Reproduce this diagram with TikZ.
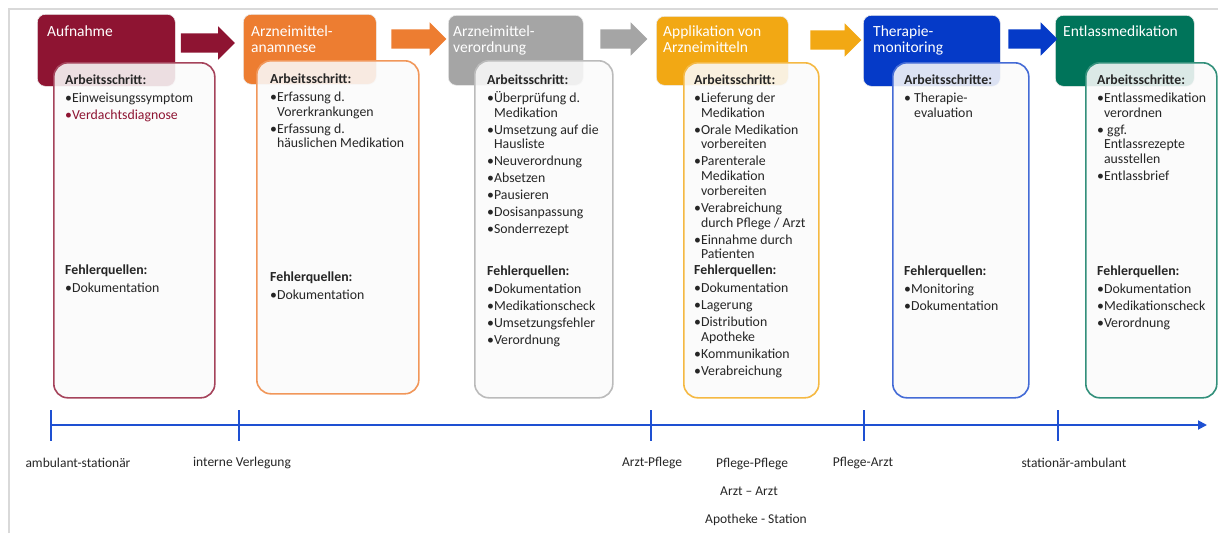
\documentclass[tikz,border=0pt]{standalone}
\usepackage{fontspec}
\setmainfont{Carlito}
\usetikzlibrary{shapes.arrows,arrows.meta}

\definecolor{aufRed}{RGB}{142,20,50}
\definecolor{anaOrange}{RGB}{237,125,49}
\definecolor{verGray}{RGB}{165,165,165}
\definecolor{appGold}{RGB}{242,168,20}
\definecolor{monBlue}{RGB}{5,58,200}
\definecolor{entTeal}{RGB}{0,116,90}
\definecolor{axisBlue}{RGB}{30,80,210}
\definecolor{bodyText}{RGB}{38,38,38}

\newcommand{\ind}{\phantom{\textbullet}}

\tikzset{
  head/.style={rounded corners=8pt, draw=black!8, line width=0.6pt, anchor=north west, inner sep=0pt},
  htitle/.style={text=white, font=\fontsize{15.5}{15.5}\selectfont, align=left, anchor=north west, inner sep=0pt},
  card/.style={draw, line width=1.6pt, rounded corners=14pt, fill=white!98!black, fill opacity=0.88, anchor=north west, inner sep=0pt},
  steps/.style={text=bodyText, font=\fontsize{13.8}{14.7}\selectfont, align=left, anchor=north west, inner sep=0pt},
  flow/.style={single arrow, inner xsep=0pt, inner ysep=9.5pt, single arrow head extend=7pt, single arrow tip angle=90, minimum height=#1},
  flow/.default=52pt,
  tick/.style={axisBlue, line width=1.8pt},
  lab/.style={text=bodyText, font=\fontsize{13.5}{14}\selectfont, inner sep=0pt}
}

\begin{document}
\begin{tikzpicture}[x=1pt, y=-1pt]
    \useasboundingbox (0,0) rectangle (1218,533);
    \draw[black!15, line width=2pt] (9,533) -- (9,9) -- (1218,9);
    % header boxes
        \node[head, fill=aufRed, minimum width=138pt, minimum height=72pt] (h1) at (37,14) {};
        \node[head, fill=anaOrange, minimum width=133pt, minimum height=70pt] (h2) at (243,14) {};
        \node[head, fill=verGray, minimum width=135pt, minimum height=70pt] (h3) at (448,15) {};
        \node[head, fill=appGold, minimum width=132pt, minimum height=69pt] (h4) at (656,16) {};
        \node[head, fill=monBlue, minimum width=137pt, minimum height=71pt] (h5) at (863,15) {};
        \node[head, fill=entTeal, minimum width=139pt, minimum height=71pt] (h6) at (1055,15) {};
    % titles
        \node[htitle] (t1) at ([shift={(10,12)}]h1.north west) {Aufnahme};
        \node[htitle] (t2) at ([shift={(8,12)}]h2.north west) {Arzneimittel-\\anamnese};
        \node[htitle] (t3) at ([shift={(5,11)}]h3.north west) {Arzneimittel-\\verordnung};
        \node[htitle] (t4) at ([shift={(7,10)}]h4.north west) {Applikation von\\Arzneimitteln};
        \node[htitle] (t5) at ([shift={(10,11)}]h5.north west) {Therapie-\\monitoring};
        \node[htitle] (t6) at ([shift={(8,11)}]h6.north west) {Entlassmedikation};
    % block arrows between the headers
        \node[flow=54pt, fill=aufRed] (a1) at (203,43) {};
        \node[flow=55pt, fill=anaOrange] (a2) at (414,39) {};
        \node[flow=47pt, fill=verGray] (a3) at (619,39) {};
        \node[flow=51pt, fill=appGold] (a4) at (831,40) {};
        \node[flow=49pt, fill=monBlue] (a5) at (1028,39) {};
    % cards
        \node[card, draw=aufRed!80, minimum width=161pt, minimum height=335pt] (b1) at (53,62) {};
        \node[card, draw=anaOrange!80, minimum width=162pt, minimum height=333pt] (b2) at (256,60) {};
        \node[card, draw=verGray!75, minimum width=138pt, minimum height=337pt] (b3) at (474,60) {};
        \node[card, draw=appGold!80, minimum width=135pt, minimum height=335pt] (b4) at (683,62) {};
        \node[card, draw=monBlue!75, minimum width=136pt, minimum height=335pt] (b5) at (892,62) {};
        \node[card, draw=entTeal!80, minimum width=131pt, minimum height=335pt] (b6) at (1085,62) {};
    % work steps
        \node[steps] (s1) at (65,75) {\textbf{Arbeitsschritt:}\\[3pt]
            \textbullet Einweisungssymptom\\[2.3pt]
            \textcolor{aufRed}{\textbullet Verdachtsdiagnose}};
        \node[steps] (s2) at (270,74) {\textbf{Arbeitsschritt:}\\[3pt]
            \textbullet Erfassung d.\\ \ind Vorerkrankungen\\[2.3pt]
            \textbullet Erfassung d.\\ \ind häuslichen Medikation};
        \node[steps] (s3) at (487,75) {\textbf{Arbeitsschritt:}\\[3pt]
            \textbullet Überprüfung d.\\ \ind Medikation\\[2.3pt]
            \textbullet Umsetzung auf die\\ \ind Hausliste\\[2.3pt]
            \textbullet Neuverordnung\\[2.3pt]
            \textbullet Absetzen\\[2.3pt]
            \textbullet Pausieren\\[2.3pt]
            \textbullet Dosisanpassung\\[2.3pt]
            \textbullet Sonderrezept};
        \node[steps] (s4) at (694,75) {\textbf{Arbeitsschritt:}\\[3pt]
            \textbullet Lieferung der\\ \ind Medikation\\[2.3pt]
            \textbullet Orale Medikation\\ \ind vorbereiten\\[2.3pt]
            \textbullet Parenterale\\ \ind Medikation\\ \ind vorbereiten\\[2.3pt]
            \textbullet Verabreichung\\ \ind durch Pflege / Arzt\\[2.3pt]
            \textbullet Einnahme durch\\ \ind Patienten};
        \node[steps] (s5) at (904,75) {\textbf{Arbeitsschritte:}\\[3pt]
            \textbullet\ Therapie-\\ \ind\ evaluation};
        \node[steps] (s6) at (1097,75) {\textbf{Arbeitsschritte:}\\[3pt]
            \textbullet Entlassmedikation\\ \ind verordnen\\[2.3pt]
            \textbullet\ ggf.\\ \ind Entlassrezepte\\ \ind ausstellen\\[2.3pt]
            \textbullet Entlassbrief};
    % error sources
        \node[steps] (f1) at (65,265) {\textbf{Fehlerquellen:}\\[3pt]
            \textbullet Dokumentation};
        \node[steps] (f2) at (270,272) {\textbf{Fehlerquellen:}\\[3pt]
            \textbullet Dokumentation};
        \node[steps] (f3) at (487,266) {\textbf{Fehlerquellen:}\\[3pt]
            \textbullet Dokumentation\\[2.3pt]
            \textbullet Medikationscheck\\[2.3pt]
            \textbullet Umsetzungsfehler\\[2.3pt]
            \textbullet Verordnung};
        \node[steps] (f4) at (694,265) {\textbf{Fehlerquellen:}\\[3pt]
            \textbullet Dokumentation\\[2.3pt]
            \textbullet Lagerung\\[2.3pt]
            \textbullet Distribution\\ \ind Apotheke\\[2.3pt]
            \textbullet Kommunikation\\[2.3pt]
            \textbullet Verabreichung};
        \node[steps] (f5) at (904,266) {\textbf{Fehlerquellen:}\\[3pt]
            \textbullet Monitoring\\[2.3pt]
            \textbullet Dokumentation};
        \node[steps] (f6) at (1097,266) {\textbf{Fehlerquellen:}\\[3pt]
            \textbullet Dokumentation\\[2.3pt]
            \textbullet Medikationscheck\\[2.3pt]
            \textbullet Verordnung};
    % timeline
        \coordinate (t0) at (50,425);
        \coordinate (tend) at (1207,425);
        \draw[tick, -{Triangle[length=9pt,width=9pt]}] (t0) -- (tend);
        \foreach \x/\n in {51/ka, 239/kb, 651/kc, 864/kd, 1058/ke} {
            \coordinate (\n) at (\x,425);
            \draw[tick] ([yshift=15pt]\n) -- ([yshift=-16pt]\n);
        }
    % Below nodes are the labels.
        \node[lab] (l1) at (78,463) {ambulant-stationär};
        \node[lab] (l2) at (242,463) {interne Verlegung};
        \node[lab] (l3) at (652,463) {Arzt-Pflege};
        \node[lab] (l4) at (752,464) {Pflege-Pflege};
        \node[lab] (l5) at (863,463) {Pflege-Arzt};
        \node[lab] (l6) at (1074,463) {stationär-ambulant};
        \node[lab] (l7) at (749,491) {Arzt – Arzt};
        \node[lab] (l8) at (756,520) {Apotheke - Station};
\end{tikzpicture}
\end{document}
